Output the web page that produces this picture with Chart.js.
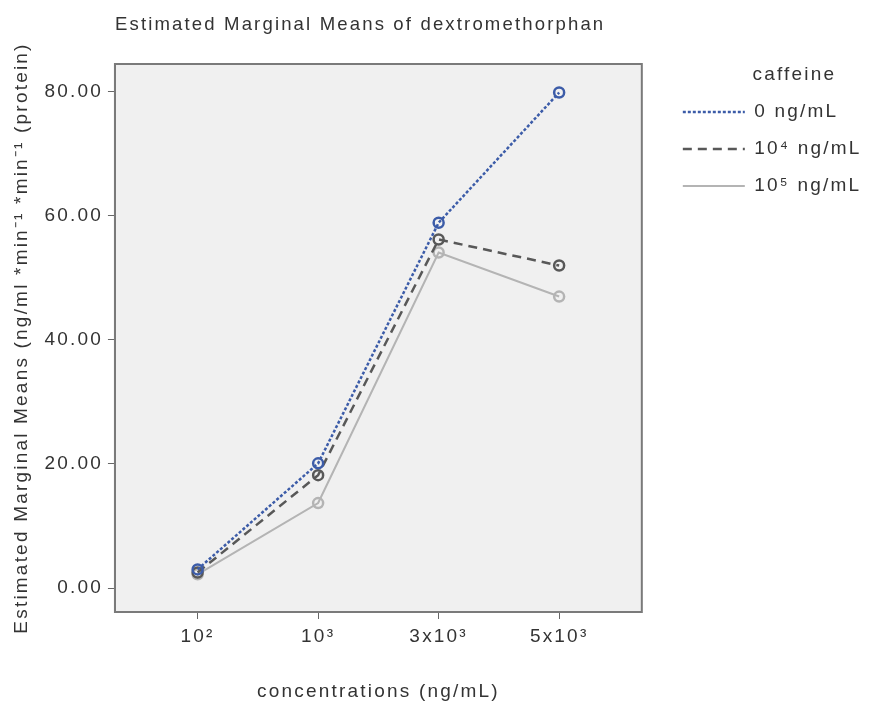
<!DOCTYPE html>
<html><head><meta charset="utf-8">
<script src="https://cdn.jsdelivr.net/npm/chart.js@4.4.1/dist/chart.umd.min.js"></script>
<style>html,body{margin:0;padding:0;background:#fff;}canvas{display:block}</style>
</head><body>
<canvas id="c" width="870" height="704"></canvas>
<script>
// ---- data ----
const categories = ['10²', '10³', '3x10³', '5x10³'];
const seriesNames = ['0 ng/mL', '10⁴ ng/mL', '10⁵ ng/mL'];
const caffeine0 = [3.0, 20.1, 58.9, 79.9];
const caffeine1e4 = [2.5, 18.2, 56.2, 52.0];
const caffeine1e5 = [2.2, 13.7, 54.1, 47.0];
const yTicks = [0, 20, 40, 60, 80];

const FONT = 'Liberation Sans, Arial, sans-serif';
const TXT = '#333333';
const NB = '\u00a0';

const spacingPlugin = {
  id: 'spacing',
  beforeInit(c) { c.ctx.letterSpacing = '2.2px'; },
  beforeUpdate(c) { c.ctx.letterSpacing = '2.2px'; },
  beforeLayout(c) { c.ctx.letterSpacing = '2.2px'; },
  afterLayout(c) {
    // leave a gap between the plot frame and the legend
    if (c.legend) { c.legend.left += 23; c.legend.right += 23; }
  },
  beforeDraw(c) { c.ctx.letterSpacing = '2.2px'; }
};
const framePlugin = {
  id: 'frame',
  beforeDraw(chart) {
    const {ctx, chartArea: a} = chart;
    ctx.save();
    ctx.fillStyle = '#f0f0f0';
    ctx.fillRect(a.left, a.top, a.right - a.left, a.bottom - a.top);
    ctx.restore();
  },
  beforeDatasetsDraw(chart) {
    const {ctx, chartArea: a} = chart;
    ctx.save();
    ctx.strokeStyle = '#7a7a7a';
    ctx.lineWidth = 2;
    ctx.strokeRect(a.left, a.top, a.right - a.left, a.bottom - a.top);
    ctx.restore();
  }
};

const toPts = arr => arr.map((v, i) => ({x: i, y: v}));

new Chart(document.getElementById('c'), {
  type: 'line',
  data: {
    datasets: [
      { label: seriesNames[0], data: toPts(caffeine0), borderColor: '#3c5ca8', borderWidth: 2.5, borderDash: [3, 2],
        pointRadius: 5, pointBorderWidth: 2.5, pointBorderColor: '#3c5ca8', pointBackgroundColor: 'rgba(0,0,0,0)' },
      { label: seriesNames[1], data: toPts(caffeine1e4), borderColor: '#585858', borderWidth: 2.5, borderDash: [9, 6],
        pointRadius: 5, pointBorderWidth: 2.5, pointBorderColor: '#585858', pointBackgroundColor: 'rgba(0,0,0,0)' },
      { label: seriesNames[2], data: toPts(caffeine1e5), borderColor: '#b4b4b4', borderWidth: 2,
        pointRadius: 5, pointBorderWidth: 2.5, pointBorderColor: '#b4b4b4', pointBackgroundColor: 'rgba(0,0,0,0)' }
    ]
  },
  options: {
    responsive: false,
    animation: false,
    devicePixelRatio: 1,
    layout: { padding: { left: 0, top: 0, bottom: 0, right: 21.5 } },
    font: { family: FONT, size: 19 },
    color: TXT,
    scales: {
      x: {
        type: 'linear', min: -0.686, max: 3.686,
        afterBuildTicks: s => { s.ticks = categories.map((_, i) => ({value: i})); },
        ticks: { callback: (v, i) => categories[i], color: TXT, padding: 6.6, font: {family: FONT, size: 19}, maxRotation: 0 },
        grid: { display: true, drawOnChartArea: false, drawTicks: true, tickLength: 7, color: '#666' },
        border: { display: true, color: '#7a7a7a', width: 2 },
        title: { display: true, text: 'concentrations (ng/mL)', color: TXT, font: {family: FONT, size: 19}, padding: {top: 25.6, bottom: 0.6} }
      },
      y: {
        type: 'linear', min: -3.87, max: 84.5,
        afterBuildTicks: s => { s.ticks = yTicks.map(v => ({value: v})); },
        ticks: { callback: v => v.toFixed(2), color: TXT, padding: 5, font: {family: FONT, size: 19} },
        grid: { display: true, drawOnChartArea: false, drawTicks: true, tickLength: 7, color: '#666' },
        border: { display: true, color: '#7a7a7a', width: 2 },
        title: { display: true, text: 'Estimated Marginal Means (ng/ml *min⁻¹ *min⁻¹ (protein)', color: TXT,
                 font: {family: FONT, size: 19}, padding: {top: 10.6, bottom: 6} }
      }
    },
    plugins: {
      title: { display: true, fullSize: false, text: 'Estimated Marginal Means of dextromethorphan' + NB.repeat(5), color: TXT,
               font: {family: FONT, size: 19, weight: 'normal'}, padding: {top: 13.6, bottom: 27.6} },
      legend: {
        display: true, position: 'right', align: 'start', fullSize: true,
        labels: {
          usePointStyle: true, pointStyle: 'line', pointStyleWidth: 62, padding: 18, color: TXT,
          font: {family: FONT, size: 19},
          generateLabels: chart => chart.data.datasets.map((ds, i) => ({
            text: ds.label, fillStyle: 'rgba(0,0,0,0)', strokeStyle: ds.borderColor, lineWidth: ds.borderWidth,
            lineDash: ds.borderDash || [], lineCap: 'butt', pointStyle: 'line', fontColor: TXT,
            hidden: false, datasetIndex: i
          }))
        },
        title: { display: true, text: NB.repeat(7) + 'caffeine', color: TXT, position: 'center',
                 font: {family: FONT, size: 19, lineHeight: 1}, padding: {top: 65.5, bottom: 0} }
      },
      tooltip: { enabled: false }
    }
  },
  plugins: [spacingPlugin, framePlugin]
});
</script>
</body></html>
